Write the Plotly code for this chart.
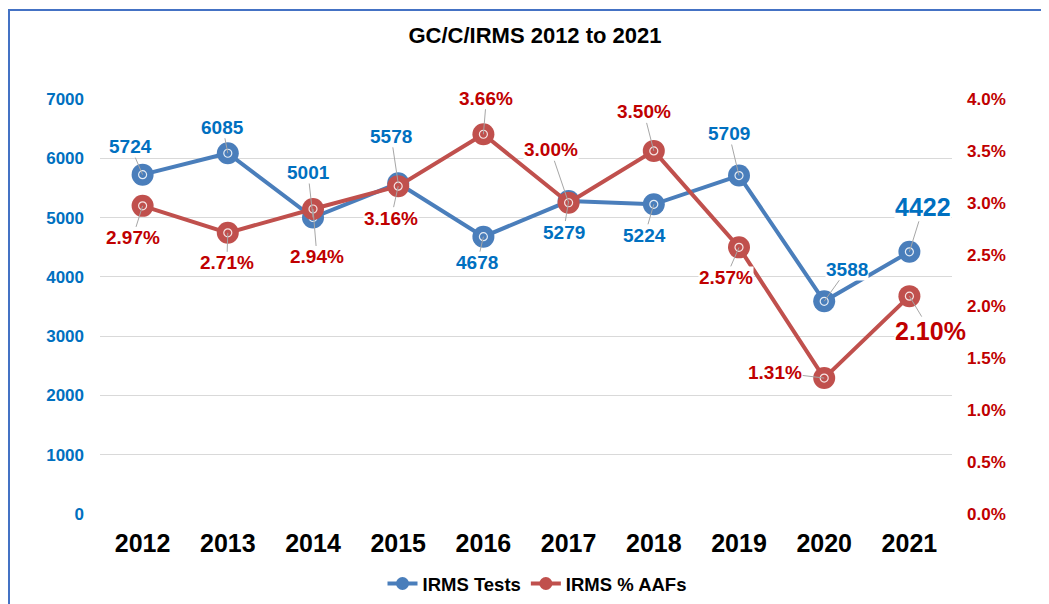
import plotly.graph_objects as go

years = ["2012", "2013", "2014", "2015", "2016", "2017", "2018", "2019", "2020", "2021"]
tests = [5724, 6085, 5001, 5578, 4678, 5279, 5224, 5709, 3588, 4422]
aafs = [2.97, 2.71, 2.94, 3.16, 3.66, 3.00, 3.50, 2.57, 1.31, 2.10]  # percent

left_ticks = [0, 1000, 2000, 3000, 4000, 5000, 6000, 7000]
right_ticks = [0, 0.5, 1.0, 1.5, 2.0, 2.5, 3.0, 3.5, 4.0]

# label offsets (pixels) from each point
blue_off = [(-12, -28), (-5, -26), (-5, -45), (-7, -47), (-6, 26), (-5, 31), (-9, 31), (-10, -42), (23, -32), (14, -45)]
red_off = [(-10, 32), (-1, 30), (4, 48), (-7, 32), (3, -36), (-18, -53), (-10, -39), (-13, 30), (-49, -6), (21, 35)]

BLUE = "#4A7EBB"
RED = "#C0504D"
BLUE_TXT = "#0070C0"
RED_TXT = "#C00000"
FONT = "Liberation Sans, Arial, sans-serif"

W, H = 1049, 604
OFF = 8  # page body margin offset compensation
PL, PT, PR, PB = 100 - OFF, 99 - OFF, 952 - OFF, 514 - OFF
PW, PH = PR - PL, PB - PT

xi = list(range(len(years)))

fig = go.Figure()
fig.add_trace(go.Scatter(x=xi, y=tests, mode="lines+markers", name="IRMS Tests",
                         line=dict(color=BLUE, width=4), marker=dict(size=22, color=BLUE),
                         showlegend=False, yaxis="y"))
fig.add_trace(go.Scatter(x=xi, y=tests, mode="markers", hoverinfo="skip",
                         marker=dict(size=8, symbol="circle-open", color="rgba(255,255,255,0.85)", line=dict(width=1.2)),
                         showlegend=False, yaxis="y"))
fig.add_trace(go.Scatter(x=xi, y=aafs, mode="lines+markers", name="IRMS % AAFs",
                         line=dict(color=RED, width=4), marker=dict(size=22, color=RED),
                         showlegend=False, yaxis="y2"))
fig.add_trace(go.Scatter(x=xi, y=aafs, mode="markers", hoverinfo="skip",
                         marker=dict(size=8, symbol="circle-open", color="rgba(255,255,255,0.85)", line=dict(width=1.2)),
                         showlegend=False, yaxis="y2"))
# legend entries
fig.add_trace(go.Scatter(x=xi, y=[None] * len(xi), mode="lines+markers", name="IRMS Tests",
                         line=dict(color=BLUE, width=4), marker=dict(size=13, color=BLUE)))
fig.add_trace(go.Scatter(x=xi, y=[None] * len(xi), mode="lines+markers", name="IRMS % AAFs",
                         line=dict(color=RED, width=4), marker=dict(size=13, color=RED), yaxis="y2"))

annotations = []
for i, v in enumerate(tests):
    big = i == len(years) - 1
    annotations.append(dict(x=i, y=v, xref="x", yref="y", text=str(v),
                            showarrow=True, arrowhead=0, arrowwidth=1, arrowcolor="#A6A6A6",
                            standoff=0, startstandoff=0,
                            ax=blue_off[i][0], ay=blue_off[i][1], bgcolor="white", borderpad=0,
                            font=dict(family=FONT, size=25 if big else 19, color=BLUE_TXT, weight="bold")))
for i, p in enumerate(aafs):
    big = i == len(years) - 1
    annotations.append(dict(x=i, y=p, xref="x", yref="y2", text=f"{p:.2f}%",
                            showarrow=True, arrowhead=0, arrowwidth=1, arrowcolor="#A6A6A6",
                            standoff=0, startstandoff=0,
                            ax=red_off[i][0], ay=red_off[i][1], bgcolor="white", borderpad=0,
                            font=dict(family=FONT, size=25 if big else 19, color=RED_TXT, weight="bold")))

fig.update_layout(
    width=W, height=H,
    margin=dict(l=PL, r=W - PR, t=PT, b=H - PB, autoexpand=False),
    paper_bgcolor="white", plot_bgcolor="white",
    font=dict(family=FONT),
    title=dict(text="GC/C/IRMS 2012 to 2021", x=(535 - OFF) / W, xref="container", xanchor="center",
               y=1 - (35 - OFF) / H, yanchor="middle", yref="container",
               font=dict(family=FONT, size=22, color="black", weight="bold")),
    xaxis=dict(range=[-0.5, len(years) - 0.5], tickvals=xi, ticktext=years,
               showgrid=False, showline=False, zeroline=False, ticks="",
               ticklabelstandoff=12,
               tickfont=dict(family=FONT, size=25, color="black", weight="bold")),
    yaxis=dict(range=[0, 7000], tickvals=left_ticks, ticktext=[str(t) for t in left_ticks],
               showgrid=True, gridcolor="#D9D9D9", gridwidth=1, zeroline=False, showline=False,
               ticks="", ticklabelstandoff=15,
               tickfont=dict(family=FONT, size=17, color=BLUE_TXT, weight="bold")),
    yaxis2=dict(range=[0, 4.0], overlaying="y", side="right", tickvals=right_ticks,
                ticktext=[f"{t:.1f}%" for t in right_ticks], showgrid=False, zeroline=False,
                showline=False, ticks="", ticklabelstandoff=14,
                tickfont=dict(family=FONT, size=17, color=RED_TXT, weight="bold")),
    legend=dict(orientation="h", x=(537 - OFF) / W, xref="container", xanchor="center",
                y=1 - (584 - OFF) / H, yref="container", yanchor="middle",
                font=dict(family=FONT, size=18.5, color="black", weight="bold"),
                bgcolor="rgba(0,0,0,0)", itemwidth=30, tracegroupgap=0),
    annotations=annotations,
    shapes=[dict(type="rect", xref="paper", yref="paper",
                 x0=(1 - PL) / PW, x1=1.3, y0=-0.4, y1=(PB - 2) / PH,
                 line=dict(color="#4472C4", width=2), fillcolor="rgba(0,0,0,0)", layer="below")],
    showlegend=True,
)

fig.write_html("out.html")
